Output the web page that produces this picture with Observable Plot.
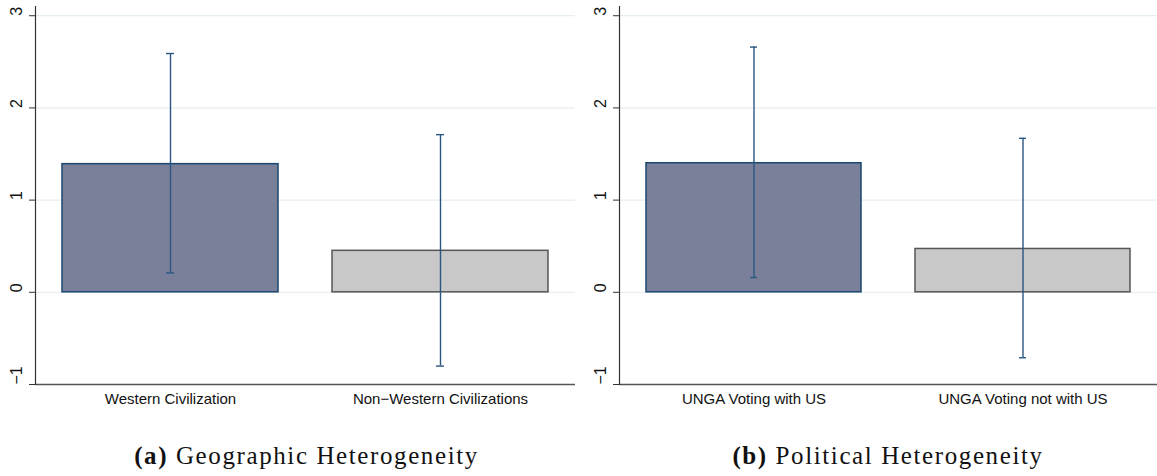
<!DOCTYPE html>
<html>
<head>
<meta charset="utf-8">
<script src="https://cdn.jsdelivr.net/npm/d3@7"></script>
<script src="https://cdn.jsdelivr.net/npm/@observablehq/plot@0.6"></script>
<style>
  html, body { margin: 0; padding: 0; background: #fff; }
  #wrap { display: flex; width: 1157px; height: 476px; overflow: hidden; }
  .panel { flex: none; }
  .cap { font-family: "Liberation Serif", "DejaVu Serif", serif; font-size: 25px; color: #111;
         letter-spacing: 1.6px; text-align: center; margin-top: 32px; line-height: 28px; white-space: nowrap; }
  .cap b { font-weight: bold; }
</style>
</head>
<body>
<div id="wrap">
  <div class="panel" id="pa" style="width:578px"></div>
  <div style="width:6px;flex:none"></div>
  <div class="panel" id="pb" style="width:573px"></div>
</div>
<script>
// ---- data ----
const categoriesA = ["Western Civilization", "Non\u2212Western Civilizations"];
const meansA = [1.39, 0.45];
const lowA = [0.21, -0.80];
const highA = [2.59, 1.71];

const categoriesB = ["UNGA Voting with US", "UNGA Voting not with US"];
const meansB = [1.40, 0.47];
const lowB = [0.16, -0.71];
const highB = [2.66, 1.67];

const yTicks = [-1, 0, 1, 2, 3];
const captionA = ["(a)", "Geographic Heterogeneity"];
const captionB = ["(b)", "Political Heterogeneity"];

// ---- styles ----
const barFills = ["#7a8099", "#c8c8c8"];
const barStrokes = ["#1a476f", "#555555"];
const ciColor = "#2b5680";

function panel(cats, means, lo, hi, width, marginRight) {
  const data = cats.map((c, i) => ({cat: c, mean: means[i], lo: lo[i], hi: hi[i]}));
  const fmt = d => d < 0 ? "\u2212" + (-d) : String(d);
  return Plot.plot({
    width, height: 410,
    marginLeft: 35, marginRight, marginTop: 6, marginBottom: 26,
    x: {domain: cats, paddingInner: 0.2, paddingOuter: 0.1, label: null},
    y: {domain: [-1, 3.1], label: null},
    style: {fontFamily: "'Liberation Sans', Arial, sans-serif", fontSize: "15px", color: "#111", background: "#fff"},
    marks: [
      Plot.gridY(yTicks.filter(d => d > -1), {stroke: "#e6eef1", strokeOpacity: 1, strokeWidth: 1.2}),
      Plot.barY([data[0]], {x: "cat", y: "mean", fill: barFills[0], stroke: barStrokes[0], strokeWidth: 1.5}),
      Plot.barY([data[1]], {x: "cat", y: "mean", fill: barFills[1], stroke: barStrokes[1], strokeWidth: 1.5}),
      Plot.ruleX(data, {x: "cat", y1: "lo", y2: "hi", stroke: ciColor, strokeWidth: 1.4}),
      Plot.tickY(data, {x: "cat", y: "lo", insetLeft: 104, insetRight: 104, stroke: ciColor, strokeWidth: 1.4}),
      Plot.tickY(data, {x: "cat", y: "hi", insetLeft: 104, insetRight: 104, stroke: ciColor, strokeWidth: 1.4}),
      Plot.ruleY([-1], {stroke: "#555", strokeWidth: 1.4}),
      Plot.axisY({ticks: yTicks, tickSize: 6, tickFormat: () => "", stroke: "#333"}),
      Plot.text(yTicks, {y: d => d, text: fmt, frameAnchor: "left", dx: -19, rotate: -90, fill: "#111", fontSize: 16}),
      Plot.axisX({tickSize: 0, tickPadding: 9}),
      Plot.frame({anchor: "left", stroke: "#333", strokeWidth: 1.2})
    ]
  });
}

function caption(parts, el) {
  const d = document.createElement("div");
  d.className = "cap";
  d.style.paddingLeft = "35px";
  const b = document.createElement("b");
  b.textContent = parts[0];
  d.appendChild(b);
  d.appendChild(document.createTextNode(" " + parts[1]));
  el.appendChild(d);
}

const pa = document.getElementById("pa");
pa.appendChild(panel(categoriesA, meansA, lowA, highA, 578, 3));
caption(captionA, pa);
const pb = document.getElementById("pb");
pb.appendChild(panel(categoriesB, meansB, lowB, highB, 573, 0));
caption(captionB, pb);
</script>
</body>
</html>
